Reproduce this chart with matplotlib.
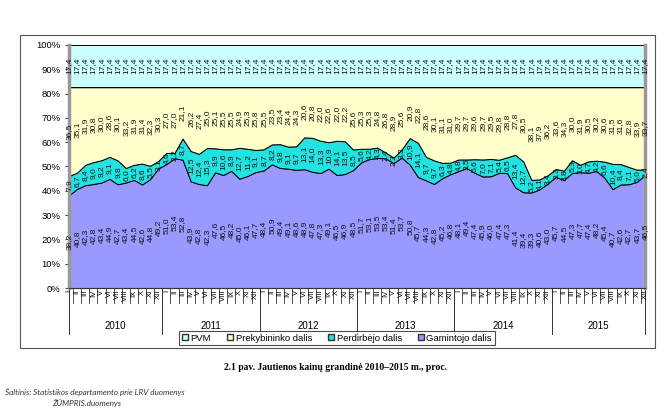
import matplotlib
matplotlib.use("Agg")
import matplotlib.pyplot as plt
import matplotlib.transforms as mtransforms
from matplotlib.patches import Patch, Rectangle
import numpy as np

months = ["I", "II", "III", "IV", "V", "VI", "VII", "VIII", "IX", "X", "XI", "XII"]
years = ["2010", "2011", "2012", "2013", "2014", "2015"]

# Gamintojo dalis (producer share), monthly 2010-2015
gamintojo = [
    38.2, 40.8, 42.3, 42.8, 43.4, 44.9, 42.7, 43.4, 44.5, 42.6, 44.8, 49.2,
    51.0, 53.4, 52.8, 43.9, 42.8, 42.3, 47.6, 46.5, 48.2, 45.0, 46.1, 47.7,
    48.4, 50.9, 49.4, 49.1, 48.6, 48.9, 47.8, 47.3, 49.1, 46.5, 46.9, 48.5,
    51.7, 53.1, 53.5, 53.4, 51.4, 53.7, 50.8, 45.7, 44.3, 42.8, 45.2, 46.8,
    48.1, 49.4, 47.4, 45.9, 46.0, 47.4, 47.3, 41.4, 39.4, 39.3, 40.6, 43.0,
    45.7, 44.5, 47.3, 47.7, 47.4, 48.2, 45.4, 40.7, 42.6, 42.7, 43.7, 46.5,
]
# Perdirbėjo dalis (processor share)
perdirbejo = [
    7.9, 6.7, 8.4, 9.0, 9.2, 9.1, 9.8, 6.0, 6.2, 8.6, 5.5, 3.1,
    4.6, 2.2, 8.7, 12.5, 12.4, 15.3, 9.9, 10.6, 8.9, 12.7, 11.2, 9.1,
    8.7, 8.2, 9.8, 9.1, 9.7, 13.1, 14.0, 13.3, 10.9, 14.1, 13.5, 8.5,
    5.6, 4.2, 4.3, 2.4, 2.3, 3.3, 10.9, 14.1, 9.7, 9.7, 6.3, 4.8,
    4.8, 3.5, 5.6, 7.0, 7.1, 5.4, 6.5, 13.4, 12.7, 5.2, 4.1, 3.4,
    3.3, 3.8, 5.3, 3.0, 4.7, 4.2, 6.6, 10.4, 8.4, 7.1, 5.0, 2.4,
]
# Prekybininko dalis (retailer share)
prekybininko = [
    36.5, 35.1, 31.9, 30.8, 30.0, 28.6, 30.1, 33.2, 31.9, 31.4, 32.3, 30.3,
    27.0, 27.0, 21.1, 26.2, 27.4, 25.0, 25.1, 25.5, 25.5, 24.9, 25.3, 25.8,
    25.5, 23.5, 23.4, 24.4, 24.3, 20.6, 20.8, 22.0, 22.6, 22.0, 22.2, 25.6,
    25.3, 25.3, 24.8, 26.8, 28.9, 25.6, 20.9, 22.8, 28.6, 30.1, 31.1, 31.0,
    29.7, 29.7, 29.6, 29.7, 29.5, 29.8, 28.8, 27.8, 30.5, 38.1, 37.9, 36.2,
    33.6, 34.3, 30.0, 31.9, 30.5, 30.2, 30.6, 31.5, 31.6, 32.8, 33.9, 33.7,
]
# PVM (VAT)
pvm = [17.4] * 72

series = [gamintojo, perdirbejo, prekybininko, pvm]
names = ["Gamintojo dalis", "Perdirbėjo dalis", "Prekybininko dalis", "PVM"]
colors = ["#9999FF", "#22E2E2", "#FFFFCC", "#CCFFFF"]

plt.rcParams["font.family"] = ["Liberation Sans", "DejaVu Sans"]

fig = plt.figure(figsize=(6.7, 4.15), dpi=100)
ax = fig.add_axes([69 / 670, 1 - 288 / 415, (645 - 69) / 670, (288 - 45) / 415])

x = np.arange(len(gamintojo))
ax.stackplot(x, *series, colors=colors, edgecolor="black", linewidth=0.7)

# data labels in the middle of each band
bottom = np.zeros(len(x))
for vals in series:
    vals = np.array(vals)
    mid = bottom + vals / 2
    for xi, yi, v in zip(x, mid, vals):
        ax.text(xi, yi, f"{v:.1f}".replace(".", ","), rotation=90,
                ha="center", va="center", fontsize=6, color="#111111")
    bottom = bottom + vals

ax.set_xlim(0, len(x) - 1)
ax.set_ylim(0, 100)
ax.set_yticks(np.arange(0, 101, 10))
ax.set_yticklabels([f"{v}%" for v in range(0, 101, 10)], fontsize=6.8)
ax.tick_params(axis="y", length=3, width=0.8, color="#444444", pad=3)
ax.set_xticks([])
for side in ["left", "right"]:
    ax.spines[side].set_color("#999999")
    ax.spines[side].set_linewidth(2.5)
ax.spines["top"].set_visible(False)
ax.spines["bottom"].set_color("#333333")
ax.spines["bottom"].set_linewidth(0.8)

# two-level category axis
trans = mtransforms.blended_transform_factory(ax.transData, ax.transAxes)
for i in range(len(x)):
    ax.text(i, -0.008, months[i % 12], rotation=90, ha="center", va="top",
            fontsize=5.5, transform=trans, clip_on=False)
    if i < len(x) - 1:
        ax.plot([i + 0.5, i + 0.5], [0, -0.06], transform=trans,
                color="#333333", lw=0.6, clip_on=False)
for k, yr in enumerate(years):
    left = max(12 * k - 0.5, 0)
    right = min(12 * k + 11.5, len(x) - 1)
    ax.text((left + right) / 2, -0.155, yr, ha="center", va="center",
            fontsize=7, transform=trans, clip_on=False)
    ax.plot([left, left], [0, -0.19], transform=trans, color="#333333",
            lw=0.7, clip_on=False)
ax.plot([len(x) - 1, len(x) - 1], [0, -0.19], transform=trans,
        color="#333333", lw=0.7, clip_on=False)

# legend
handles = [Patch(facecolor=colors[i], edgecolor="#333333", label=names[i])
           for i in [3, 2, 1, 0]]
leg = fig.legend(handles=handles, loc="center", ncol=4,
                 bbox_to_anchor=(337 / 670, 1 - 338 / 415), fontsize=6.8,
                 frameon=True, fancybox=False, handlelength=0.6,
                 handleheight=0.6, handletextpad=0.3, columnspacing=1.7,
                 borderpad=0.3)
leg.get_frame().set_edgecolor("#222222")
leg.get_frame().set_linewidth(0.8)

# outer chart frame
fig.patches.append(Rectangle((20 / 670, 1 - 348 / 415), 635 / 670, 313 / 415,
                             transform=fig.transFigure, fill=False,
                             edgecolor="#555555", lw=0.8))

fig.text(0.5, 1 - 368 / 415, "2.1 pav. Jautienos kainų grandinė 2010–2015 m., proc.",
         ha="center", va="center", fontsize=6.9, fontweight="bold",
         family="Liberation Serif")
fig.text(5 / 670, 1 - 392 / 415, "Šaltinis: Statistikos departamento prie LRV duomenys",
         ha="left", va="center", fontsize=5.9, style="italic", family="Lato",
         color="#333333")
fig.text(52 / 670, 1 - 403 / 415, "ŽŪMPRIS.duomenys",
         ha="left", va="center", fontsize=5.9, style="italic", family="Lato",
         color="#333333")

fig.savefig("out.png", dpi=100)
